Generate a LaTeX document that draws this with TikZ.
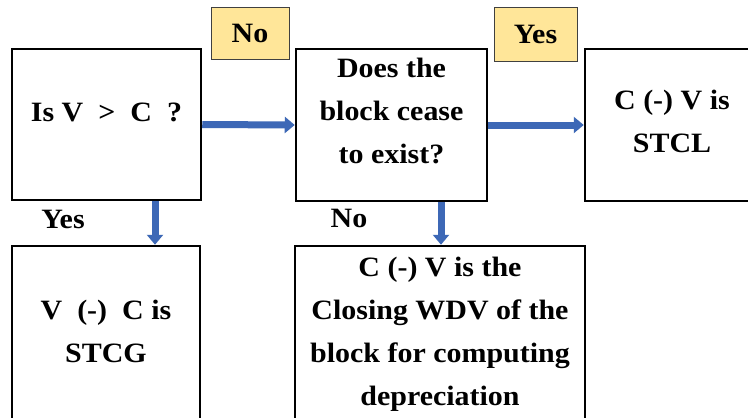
\documentclass[tikz,border=0pt]{standalone}
\usepackage{fontspec}
\setmainfont{Liberation Serif}[FakeStretch=1.07]
\usetikzlibrary{arrows.meta}
\definecolor{arrowblue}{HTML}{3D68B6}
\definecolor{labelfill}{HTML}{FFE699}
\begin{document}
\begin{tikzpicture}[x=1pt,y=-1pt,
  txt/.style={font=\fontsize{28}{43}\selectfont\bfseries, align=center},
  box/.style={txt, draw=black, line width=2.5pt, inner sep=0pt},
  tag/.style={txt, draw=black!75, line width=0.9pt, fill=labelfill, inner sep=0pt},
  flow/.style={draw=arrowblue, line width=7pt, -{Triangle[width=16pt,length=10pt]}},
  ]
\clip (0,0) rectangle (748,418);
\fill[white] (0,0) rectangle (748,418);

\node[box, minimum width=189pt, minimum height=151pt, text height=20pt, text depth=27pt] (b1) at (106.5,124.5) {Is V \ > \ C \ ?};
\node[box, minimum width=191pt, minimum height=152pt, text height=76pt, text depth=0pt] (b2) at (391.5,125) {Does the\\block cease\\to exist?};
\node[box, minimum width=174pt, minimum height=152pt, text height=54pt, text depth=0pt] (b3) at (672,125) {C (-) V is\\STCL};
\node[box, minimum width=188pt, minimum height=184pt, text height=48pt, text depth=0pt] (b4) at (106,338) {V \ (-) \ C is\\STCG};
\node[box, minimum width=290pt, minimum height=184pt, text height=134pt, text depth=0pt] (b5) at (440,338) {C (-) V is the\\Closing WDV of the\\block for computing\\depreciation};

\node[tag, minimum width=78pt, minimum height=52pt] (tno) at (250,33) {No};
\node[tag, minimum width=83pt, minimum height=54pt] (tyes) at (535.5,34) {Yes};

\node[txt, anchor=base] (lyes) at (63,228) {Yes};
\node[txt, anchor=base] (lno) at (349,227) {No};

\draw[flow] (b1.east) -- (b2.west);
\draw[flow] (b2.east) -- (b3.west);
\coordinate (d1) at ([xshift=48.5pt]b1.south);
\coordinate (d2) at ([xshift=49.5pt]b2.south);
\draw[flow] (d1) -- (d1 |- b4.north);
\draw[flow] (d2) -- (d2 |- b5.north);
\end{tikzpicture}
\end{document}
